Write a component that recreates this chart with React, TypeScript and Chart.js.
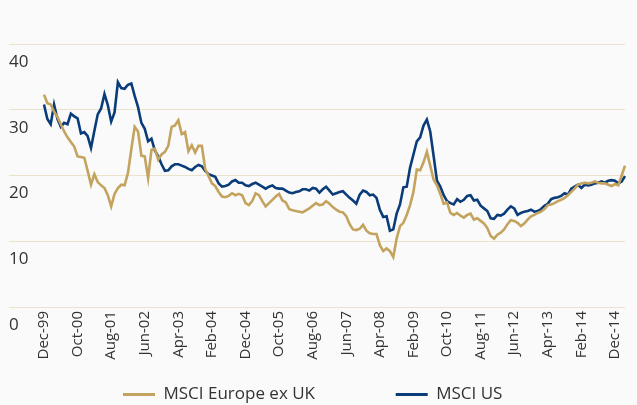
import React, { useEffect, useRef } from 'react';
import { Chart, registerables } from 'chart.js';

Chart.register(...registerables);

const MONTH_NAMES = ['Jan', 'Feb', 'Mar', 'Apr', 'May', 'Jun', 'Jul', 'Aug', 'Sep', 'Oct', 'Nov', 'Dec'];
// Monthly observations Dec-99 .. Mar-15; the source series skips Dec-09..Sep-10
const START_YEAR = 1999;
const START_MONTH = 11;
const POINT_COUNT = 174;
const GAP_AT = 120;
const GAP_MONTHS = 10;
const TICK_EVERY = 10;

const categories: string[] = Array.from({ length: POINT_COUNT }, (_, i) => {
  const m = START_MONTH + i + (i >= GAP_AT ? GAP_MONTHS : 0);
  const y = START_YEAR + Math.floor(m / 12);
  return `${MONTH_NAMES[m % 12]}-${String(y % 100).padStart(2, '0')}`;
});

const europeExUK: number[] = [
  32.3, 31.0, 30.8, 29.7, 28.9, 27.8, 26.7, 25.8, 25.1, 24.4,
  22.9, 22.8, 22.7, 20.7, 18.6, 20.2, 19.0, 18.5, 18.1, 17.0,
  15.3, 17.2, 18.1, 18.6, 18.5, 20.4, 24.0, 27.4, 26.7, 23.0,
  22.9, 19.6, 23.9, 24.1, 22.4, 23.2, 23.6, 24.5, 27.4, 27.6,
  28.4, 26.3, 26.6, 23.7, 24.6, 23.5, 24.5, 24.5, 21.0, 19.9,
  18.8, 18.4, 17.5, 16.8, 16.7, 16.9, 17.3, 17.0, 17.2, 17.0,
  15.8, 15.5, 16.1, 17.3, 17.0, 16.1, 15.3, 15.8, 16.3, 16.8,
  17.2, 16.2, 15.9, 14.9, 14.7, 14.6, 14.5, 14.4, 14.7, 15.0,
  15.4, 15.8, 15.5, 15.6, 16.1, 15.7, 15.2, 14.8, 14.5, 14.4,
  13.8, 12.6, 11.8, 11.7, 11.9, 12.5, 11.6, 11.2, 11.1, 11.1,
  9.4, 8.5, 8.9, 8.5, 7.6, 10.4, 12.3, 12.8, 14.0, 15.5,
  17.5, 20.9, 20.8, 22.0, 23.6, 21.5, 19.4, 18.5, 17.2, 15.7,
  15.9, 14.3, 14.0, 14.3, 13.9, 13.6, 14.0, 14.2, 13.3, 13.5,
  13.1, 12.7, 12.0, 10.8, 10.4, 11.0, 11.3, 11.8, 12.6, 13.2,
  13.1, 12.8, 12.3, 12.7, 13.3, 13.8, 14.0, 14.3, 14.5, 14.9,
  15.5, 15.6, 15.8, 16.1, 16.3, 16.6, 17.0, 17.5, 18.0, 18.6,
  18.8, 18.9, 18.8, 18.9, 19.1, 18.9, 18.8, 18.8, 18.6, 18.4,
  18.7, 18.5, 20.0, 21.5,
];

const msciUS: number[] = [
  30.8, 28.6, 27.8, 30.8, 28.6, 27.4, 28.0, 27.8, 29.4, 29.0,
  28.7, 26.4, 26.6, 26.0, 24.2, 26.8, 29.3, 30.2, 32.4, 30.7,
  28.2, 29.6, 34.2, 33.3, 33.2, 33.8, 34.0, 32.1, 30.4, 28.0,
  27.1, 25.2, 25.6, 23.8, 22.9, 21.7, 20.7, 20.8, 21.4, 21.7,
  21.7, 21.5, 21.3, 21.0, 20.8, 21.3, 21.6, 21.4, 20.7, 20.2,
  20.0, 19.8, 18.8, 18.3, 18.4, 18.6, 19.1, 19.3, 18.9, 18.9,
  18.5, 18.4, 18.7, 18.9, 18.6, 18.3, 18.0, 18.3, 18.5, 18.1,
  18.0, 18.0, 17.7, 17.4, 17.3, 17.5, 17.6, 17.9, 17.9, 17.7,
  18.1, 18.0, 17.4, 17.9, 18.3, 17.7, 17.1, 17.3, 17.5, 17.6,
  17.1, 16.6, 16.2, 15.7, 17.1, 17.7, 17.5, 17.0, 17.1, 16.6,
  14.8, 13.7, 13.8, 11.6, 11.8, 14.2, 15.6, 18.2, 18.3, 21.2,
  23.2, 25.2, 25.8, 27.6, 28.5, 26.7, 23.0, 19.2, 18.3, 17.0,
  16.1, 15.8, 15.6, 16.4, 16.0, 16.3, 16.9, 17.0, 16.2, 16.3,
  15.4, 15.0, 14.6, 13.5, 13.4, 14.0, 13.9, 14.2, 14.8, 15.3,
  15.0, 14.0, 14.3, 14.5, 14.6, 14.8, 14.5, 14.6, 14.9, 15.4,
  15.7, 16.4, 16.6, 16.7, 16.9, 17.3, 17.1, 18.0, 18.3, 18.6,
  18.1, 18.6, 18.5, 18.6, 18.8, 18.9, 19.1, 18.9, 19.2, 19.3,
  19.2, 18.8, 19.1, 19.9,
];

const Y_MIN = 0;
const Y_MAX = 40;
const Y_STEP = 10;

const GOLD = '#C3A35E';
const NAVY = '#0B3C7A';
const GRID = '#ECE2CB';
const TEXT = '#333333';
const BG = '#FAFAFA';

export default function App() {
  const ref = useRef<HTMLCanvasElement>(null);

  useEffect(() => {
    document.body.style.margin = '0';
    document.body.style.background = BG;
    Chart.defaults.font.family = '"Open Sans", "Noto Sans", sans-serif';
    const chart = new Chart(ref.current as HTMLCanvasElement, {
      type: 'line',
      data: {
        labels: categories,
        datasets: [
          {
            label: 'MSCI Europe ex UK',
            data: europeExUK,
            borderColor: GOLD,
            backgroundColor: GOLD,
            borderWidth: 2.6,
            pointRadius: 0,
            tension: 0,
            fill: false,
          },
          {
            label: 'MSCI US',
            data: msciUS,
            borderColor: NAVY,
            backgroundColor: NAVY,
            borderWidth: 2.6,
            pointRadius: 0,
            tension: 0,
            fill: false,
          },
        ],
      },
      options: {
        responsive: false,
        animation: false,
        layout: { padding: { top: 44, right: 3, bottom: -8, left: 9 } },
        plugins: {
          tooltip: { enabled: false },
          legend: {
            position: 'bottom',
            labels: {
              boxWidth: 32,
              boxHeight: 3,
              padding: 10,
              color: TEXT,
              font: { size: 17 },
              generateLabels: (c: any) =>
                (Chart.defaults.plugins.legend.labels as any).generateLabels(c).map((item: any, i: number) => ({
                  ...item,
                  lineWidth: 0,
                  text: item.text + '\u00A0'.repeat(i === 0 ? 16 : 4),
                })),
            },
          },
        },
        scales: {
          x: {
            grid: { display: false, drawTicks: false },
            border: { display: false },
            ticks: {
              autoSkip: false,
              maxRotation: 90,
              minRotation: 90,
              padding: 4,
              color: TEXT,
              font: { size: 15 },
              callback: (_v: any, i: number) => (i % TICK_EVERY === 0 ? categories[i] : null),
            },
            afterFit: (s: any) => {
              s.height = 69;
            },
          },
          y: {
            min: Y_MIN,
            max: Y_MAX,
            ticks: {
              stepSize: Y_STEP,
              labelOffset: 18,
              crossAlign: 'far',
              color: TEXT,
              font: { size: 17 },
            },
            grid: { color: GRID, tickColor: GRID, drawTicks: true, tickLength: 35 },
            border: { display: false },
            afterFit: (s: any) => {
              s.width = 35;
            },
          },
        },
      } as any,
    });
    return () => chart.destroy();
  }, []);

  return <canvas ref={ref} width={637} height={405} style={{ display: 'block', background: BG }} />;
}
